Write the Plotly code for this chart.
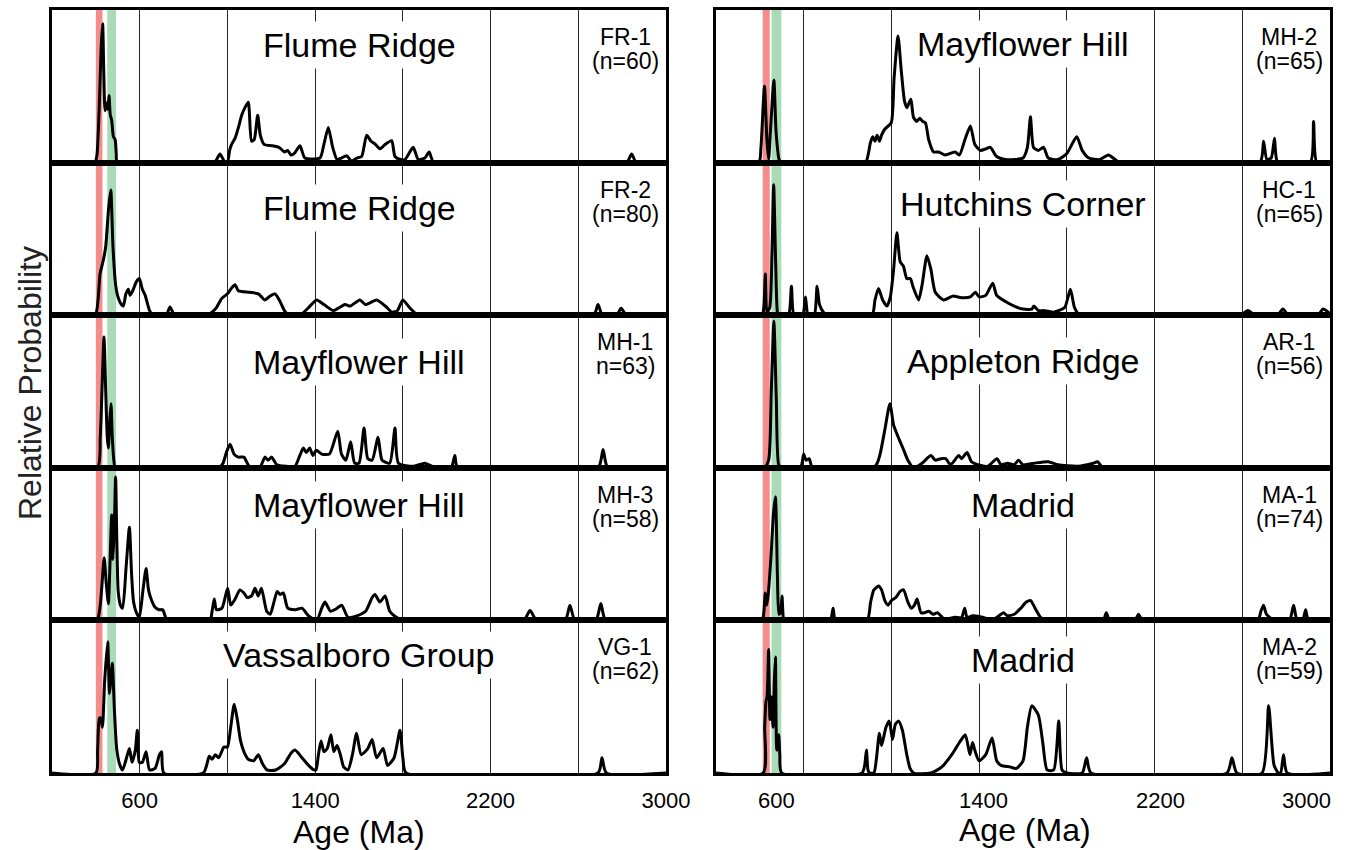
import plotly.graph_objects as go

# ---------------- data (age in Ma, relative probability) ----------------
fr1_age = [200, 395, 405, 415, 424, 431, 436, 442, 450, 455, 460, 466, 472, 480, 488, 493, 498,
           940, 966, 989, 1000, 1010, 1019, 1035, 1050, 1065, 1080, 1095, 1110, 1122, 1138, 1150,
           1167, 1205, 1235, 1260, 1275, 1290, 1305, 1331, 1353, 1422, 1440, 1460, 1480, 1500,
           1520, 1544, 1565, 1590, 1612, 1635, 1655, 1675, 1696, 1720, 1749, 1764, 1790, 1810,
           1847, 1870, 1900, 1920, 1942, 2820, 2843, 2865, 3000]
fr1_prob = [0, 0, 0.05, 0.35, 0.75, 0.91, 0.6, 0.34, 0.39, 0.35, 0.44, 0.31, 0.28, 0.17, 0.15, 0.06, 0,
            0, 0.057, 0, 0.0, 0.08, 0.12, 0.16, 0.23, 0.31, 0.36, 0.395, 0.14, 0.15, 0.31, 0.18,
            0.12, 0.11, 0.1, 0.07, 0.08, 0.05, 0.06, 0.11, 0.03, 0.03, 0.12, 0.23, 0.1, 0.02,
            0.03, 0.045, 0.01, 0.03, 0.04, 0.18, 0.14, 0.12, 0.09, 0.12, 0.144, 0.04, 0.02, 0.02,
            0.1, 0.02, 0.03, 0.07, 0, 0, 0.057, 0, 0]

fr2_age = [200, 396, 410, 419, 434, 445, 458, 468, 478, 490, 498, 512, 525, 537, 548, 556, 568,
           585, 598, 612, 625, 645, 662, 720, 738, 760, 905, 930, 950, 974, 1000, 1020, 1035, 1050,
           1100, 1141, 1170, 1190, 1217, 1240, 1260, 1278, 1335, 1370, 1407, 1440, 1483, 1536,
           1560, 1604, 1630, 1680, 1720, 1750, 1775, 1800, 1830, 1860, 1880, 2670, 2690, 2710,
           2775, 2795, 2820, 3000]
fr2_prob = [0, 0, 0.1, 0.27, 0.36, 0.45, 0.7, 0.82, 0.45, 0.2, 0.135, 0.08, 0.06, 0.14, 0.17, 0.13, 0.16,
            0.22, 0.24, 0.17, 0.13, 0.03, 0, 0, 0.054, 0, 0, 0.02, 0.05, 0.11, 0.14, 0.18, 0.2, 0.16,
            0.15, 0.14, 0.1, 0.12, 0.14, 0.09, 0.03, 0, 0.005, 0.05, 0.1, 0.07, 0.03, 0.07,
            0.06, 0.1, 0.07, 0.1, 0.06, 0.02, 0.03, 0.1, 0.05, 0.01, 0, 0, 0.07, 0,
            0, 0.045, 0, 0]

mh1_age = [200, 407, 420, 430, 437, 445, 452, 457, 463, 469, 475, 482, 490, 960, 980, 995, 1012,
           1030, 1050, 1075, 1100, 1150, 1171, 1185, 1202, 1225, 1270, 1308, 1330, 1346, 1360,
           1375, 1390, 1405, 1430, 1465, 1503, 1520, 1540, 1562, 1580, 1600, 1623, 1640, 1660,
           1687, 1705, 1740, 1764, 1780, 1850, 1900, 1950, 2020, 2037, 2050, 2690, 2713, 2735, 3000]
mh1_prob = [0, 0, 0.2, 0.6, 0.857, 0.5, 0.2, 0.13, 0.3, 0.42, 0.2, 0.05, 0, 0, 0.03, 0.1, 0.155,
            0.09, 0.07, 0.07, 0.01, 0.01, 0.07, 0.05, 0.07, 0.02, 0.01, 0.01, 0.08, 0.13, 0.1,
            0.13, 0.08, 0.115, 0.09, 0.09, 0.24, 0.09, 0.05, 0.17, 0.03, 0.03, 0.26, 0.06, 0.05,
            0.2, 0.05, 0.03, 0.26, 0.03, 0.01, 0.03, 0, 0, 0.08, 0, 0, 0.12, 0, 0]

mh3_age = [200, 404, 420, 438, 447, 457, 465, 472, 478, 484, 490, 496, 502, 512, 522, 538, 553,
           563, 572, 585, 598, 615, 629, 640, 652, 668, 688, 705, 718, 730, 920, 930, 940, 950,
           975, 1001, 1015, 1035, 1057, 1075, 1090, 1110, 1126, 1140, 1155, 1179, 1195, 1212,
           1227, 1240, 1255, 1275, 1310, 1340, 1370, 1407, 1430, 1445, 1470, 1500, 1521, 1550,
           1590, 1630, 1660, 1673, 1695, 1719, 1740, 1770, 1800, 2350, 2380, 2410, 2540, 2562,
           2585, 2680, 2703, 2725, 3000]
mh3_prob = [0, 0, 0.1, 0.41, 0.25, 0.11, 0.4, 0.69, 0.4, 0.6, 0.94, 0.5, 0.19, 0.1, 0.08, 0.35, 0.61,
            0.3, 0.12, 0.05, 0.02, 0.2, 0.34, 0.2, 0.14, 0.09, 0.07, 0.07, 0.02, 0, 0, 0.06, 0.14, 0.07,
            0.08, 0.21, 0.1, 0.14, 0.2, 0.18, 0.15, 0.16, 0.21, 0.16, 0.21, 0.06, 0.04, 0.12,
            0.19, 0.17, 0.18, 0.08, 0.07, 0.08, 0.03, 0, 0.08, 0.12, 0.06, 0.08, 0.1, 0.02,
            0.03, 0.06, 0.15, 0.17, 0.12, 0.16, 0.06, 0.02, 0, 0, 0.065, 0, 0, 0.1,
            0, 0, 0.11, 0, 0]

vg1_age = [200, 400, 408, 416, 422, 430, 440, 454, 462, 468, 475, 485, 495, 510, 522, 540, 553,
           565, 580, 589, 598, 612, 629, 645, 670, 690, 700, 710, 890, 905, 917, 930, 945, 960,
           984, 1000, 1015, 1031, 1045, 1060, 1075, 1095, 1120, 1141, 1160, 1180, 1220, 1260,
           1290, 1308, 1340, 1370, 1395, 1404, 1415, 1427, 1440, 1455, 1472, 1485, 1500, 1515,
           1530, 1550, 1570, 1589, 1610, 1640, 1660, 1680, 1710, 1730, 1760, 1787, 1800, 1815,
           2690, 2708, 2728, 3000]
vg1_prob = [0, 0, 0.15, 0.36, 0.36, 0.3, 0.6, 0.86, 0.52, 0.6, 0.72, 0.4, 0.16, 0.05, 0.02, 0.1, 0.16,
            0.07, 0.15, 0.28, 0.07, 0.07, 0.14, 0.02, 0.03, 0.12, 0.14, 0, 0, 0.05, 0.11, 0.09, 0.12, 0.1,
            0.17, 0.17, 0.3, 0.45, 0.35, 0.21, 0.14, 0.09, 0.08, 0.12, 0.06, 0.02, 0.02, 0.06,
            0.13, 0.15, 0.1, 0.05, 0.02, 0.02, 0.12, 0.21, 0.14, 0.16, 0.25, 0.14, 0.18, 0.12,
            0.04, 0.02, 0.12, 0.26, 0.12, 0.16, 0.22, 0.1, 0.16, 0.05, 0.1, 0.28, 0.1, 0,
            0, 0.1, 0, 0]

mh2_age = [200, 395, 405, 421, 432, 440, 448, 464, 474, 488, 501, 881, 895, 904, 915, 925, 935,
           945, 955, 970, 999, 1012, 1030, 1045, 1060, 1071, 1080, 1089, 1100, 1115, 1130, 1142,
           1155, 1170, 1192, 1215, 1246, 1290, 1310, 1335, 1360, 1380, 1405, 1430, 1451, 1480,
           1520, 1560, 1600, 1620, 1634, 1648, 1670, 1694, 1715, 1760, 1800, 1845, 1870, 1900,
           1950, 1990, 2030, 2080, 2680, 2697, 2712, 2732, 2747, 2762, 2910, 2925, 2940, 3000]
mh2_prob = [0, 0, 0.1, 0.5, 0.15, 0.02, 0.2, 0.54, 0.2, 0.02, 0, 0, 0.06, 0.13, 0.17, 0.14, 0.18,
            0.14, 0.18, 0.22, 0.26, 0.55, 0.83, 0.6, 0.4, 0.36, 0.39, 0.415, 0.3, 0.27, 0.29, 0.27,
            0.26, 0.15, 0.07, 0.07, 0.05, 0.07, 0.05, 0.15, 0.24, 0.12, 0.08, 0.09, 0.1, 0.04,
            0.02, 0.02, 0.03, 0.1, 0.3, 0.1, 0.08, 0.1, 0.03, 0.02, 0.06, 0.17, 0.08, 0.03,
            0.02, 0.05, 0.01, 0, 0, 0.14, 0.02, 0.03, 0.16, 0, 0, 0.27, 0, 0]

hc1_age = [200, 410, 418, 425, 432, 445, 455, 463, 472, 480, 486, 530, 544, 556, 595, 608, 620,
           648, 661, 672, 690, 710, 911, 925, 941, 960, 980, 995, 1010, 1025, 1040, 1055, 1070,
           1086, 1100, 1124, 1140, 1162, 1180, 1200, 1238, 1280, 1320, 1360, 1383, 1400, 1430,
           1462, 1480, 1520, 1560, 1600, 1640, 1650, 1670, 1700, 1740, 1790, 1816, 1835, 1860,
           2590, 2626, 2660, 2760, 2785, 2810, 2945, 2968, 3000]
hc1_prob = [0, 0, 0.05, 0.27, 0.02, 0.05, 0.4, 0.855, 0.35, 0.02, 0, 0, 0.19, 0, 0, 0.12, 0,
            0, 0.19, 0.07, 0.02, 0, 0, 0.1, 0.175, 0.1, 0.06, 0.12, 0.3, 0.54, 0.35, 0.32, 0.24,
            0.24, 0.18, 0.1, 0.2, 0.39, 0.3, 0.15, 0.1, 0.125, 0.115, 0.12, 0.15, 0.12, 0.13,
            0.21, 0.13, 0.09, 0.06, 0.04, 0.04, 0.06, 0.03, 0.03, 0.02, 0.05, 0.17, 0.05, 0,
            0, 0.03, 0, 0, 0.04, 0, 0, 0.04, 0.01]

ar1_age = [200, 420, 440, 452, 464, 475, 486, 500, 585, 600, 610, 625, 640, 918, 935, 950, 970,
           993, 1010, 1023, 1040, 1055, 1075, 1101, 1140, 1180, 1200, 1225, 1247, 1270, 1307,
           1320, 1345, 1365, 1395, 1440, 1481, 1500, 1530, 1560, 1580, 1600, 1650, 1715, 1760,
           1850, 1920, 1940, 1965, 3000]
ar1_prob = [0, 0, 0.05, 0.5, 0.96, 0.45, 0.02, 0, 0, 0.09, 0.05, 0.06, 0, 0, 0.03, 0.1, 0.25,
            0.42, 0.28, 0.23, 0.17, 0.12, 0.05, 0, 0.03, 0.08, 0.05, 0.06, 0.06, 0.02, 0.08,
            0.06, 0.1, 0.04, 0.02, 0.01, 0.06, 0.02, 0.03, 0.02, 0.05, 0.02, 0.03, 0.04, 0.02,
            0.01, 0.03, 0.04, 0, 0]

ma1_age = [200, 410, 418, 425, 432, 440, 452, 462, 471, 480, 487, 494, 501, 508, 515, 720, 734,
           745, 889, 905, 920, 941, 955, 970, 985, 1000, 1020, 1040, 1055, 1075, 1090, 1105, 1117,
           1135, 1150, 1170, 1190, 1210, 1240, 1290, 1320, 1334, 1345, 1370, 1420, 1460, 1490,
           1511, 1530, 1560, 1590, 1615, 1635, 1655, 1680, 1700, 1965, 1980, 1995, 2110, 2127,
           2145, 2670, 2685, 2697, 2710, 2725, 2745, 2815, 2834, 2850, 2875, 2889, 2902, 3000]
ma1_prob = [0, 0, 0.05, 0.18, 0.1, 0.2, 0.45, 0.7, 0.81, 0.3, 0.04, 0.05, 0.16, 0.01, 0, 0, 0.08,
            0, 0, 0.12, 0.2, 0.225, 0.2, 0.13, 0.1, 0.13, 0.15, 0.19, 0.2, 0.12, 0.08, 0.1, 0.14,
            0.05, 0.05, 0.06, 0.04, 0.05, 0.01, 0.02, 0.02, 0.08, 0.02, 0.03, 0.02, 0.0, 0.03,
            0.05, 0.03, 0.04, 0.08, 0.12, 0.13, 0.08, 0.02, 0, 0, 0.05, 0, 0, 0.04,
            0, 0, 0.06, 0.1, 0.04, 0.02, 0, 0, 0.1, 0, 0, 0.07, 0, 0]

ma2_age = [200, 415, 422, 428, 433, 440, 446, 452, 460, 466, 471, 477, 486, 491, 500, 866, 878,
           886, 893, 900, 920, 932, 945, 955, 975, 990, 1005, 1018, 1033, 1050, 1070, 1085, 1101,
           1180, 1230, 1280, 1310, 1337, 1358, 1370, 1380, 1400, 1430, 1459, 1480, 1500, 1540,
           1570, 1600, 1620, 1640, 1670, 1690, 1710, 1740, 1763, 1778, 1800, 1870, 1890, 1910,
           2530, 2553, 2575, 2690, 2720, 2745, 2765, 2775, 2788, 2805, 3000]
ma2_prob = [0, 0, 0.3, 0.47, 0.5, 0.81, 0.35, 0.5, 0.3, 0.6, 0.76, 0.15, 0.25, 0.12, 0, 0, 0.05,
            0.15, 0.02, 0, 0, 0.1, 0.26, 0.18, 0.3, 0.34, 0.22, 0.32, 0.34, 0.28, 0.12, 0.03, 0,
            0, 0.04, 0.13, 0.2, 0.25, 0.12, 0.2, 0.15, 0.08, 0.12, 0.23, 0.08, 0.05, 0.04,
            0.03, 0.08, 0.3, 0.44, 0.38, 0.2, 0.02, 0.02, 0.34, 0.02, 0, 0, 0.1, 0,
            0, 0.1, 0, 0, 0.44, 0.05, 0, 0, 0.12, 0, 0]

titles = ["Flume Ridge", "Flume Ridge", "Mayflower Hill", "Mayflower Hill", "Vassalboro Group",
          "Mayflower Hill", "Hutchins Corner", "Appleton Ridge", "Madrid", "Madrid"]
sample_ids = ["FR-1", "FR-2", "MH-1", "MH-3", "VG-1", "MH-2", "HC-1", "AR-1", "MA-1", "MA-2"]
sample_ns = ["(n=60)", "(n=80)", "n=63)", "(n=58)", "(n=62)",
             "(n=65)", "(n=65)", "(n=56)", "(n=74)", "(n=59)"]
ages = [fr1_age, fr2_age, mh1_age, mh3_age, vg1_age, mh2_age, hc1_age, ar1_age, ma1_age, ma2_age]
probs = [fr1_prob, fr2_prob, mh1_prob, mh3_prob, vg1_prob, mh2_prob, hc1_prob, ar1_prob, ma1_prob, ma2_prob]

tick_vals = [600, 1000, 1400, 1800, 2200, 2600, 3000]
tick_text = ["600", "", "1400", "", "2200", "", "3000"]
right_tick_labels = ["600", "1400", "2200", "3000"]
x_range = [200, 3000]
red_band = [[400, 430], [413, 445]]      # per column
green_band = [[452, 492], [453, 498]]

# ---------------- layout geometry ----------------
W, H = 1367, 850
col_px = [(52, 666), (716, 1330)]
top_px, bot_px = 10, 773
ph = (bot_px - top_px) / 5
title_off = [35, 45, 47, 37, 35, 34, 41, 46, 37, 40]
FONT = "Liberation Sans, Arial, sans-serif"

fig = go.Figure()
layout = dict(width=W, height=H, margin=dict(l=0, r=0, t=0, b=0, pad=0, autoexpand=False),
              paper_bgcolor="white", plot_bgcolor="white", showlegend=False)
shapes, annotations = [], []

for k in range(10):
    col, row = divmod(k, 5)
    n = k + 1
    xa, ya = f"xaxis{n}" if n > 1 else "xaxis", f"yaxis{n}" if n > 1 else "yaxis"
    xr, yr = f"x{n}" if n > 1 else "x", f"y{n}" if n > 1 else "y"
    y_top = top_px + row * ph
    y_bot = y_top + ph
    xd = [col_px[col][0] / W, col_px[col][1] / W]
    yd = [1 - y_bot / H, 1 - y_top / H]
    bottom = row == 4
    layout[xa] = dict(domain=xd, range=x_range, anchor=yr, tickmode="array",
                      tickvals=tick_vals, ticktext=tick_text, showticklabels=(bottom and col == 0),
                      ticks="", ticklabelstandoff=6, showgrid=True,
                      gridcolor="rgba(0,0,0,0.85)", gridwidth=1,
                      zeroline=False, showline=True, mirror=True, linecolor="black", linewidth=3,
                      tickfont=dict(family=FONT, size=22, color="black"))
    layout[ya] = dict(domain=yd, range=[0, 1.0], anchor=xr, showticklabels=False, ticks="",
                      showgrid=False, zeroline=False, showline=True, mirror=True,
                      linecolor="black", linewidth=3)
    fig.add_trace(go.Scatter(x=ages[k], y=probs[k], mode="lines", xaxis=xr, yaxis=yr,
                             line=dict(color="black", width=3, shape="spline", smoothing=0.6),
                             hoverinfo="skip"))
    shapes.append(dict(type="rect", xref=xr, yref=f"{yr} domain", x0=red_band[col][0],
                       x1=red_band[col][1], y0=0, y1=1, fillcolor="#f48c8c", line_width=0,
                       layer="below"))
    shapes.append(dict(type="rect", xref=xr, yref=f"{yr} domain", x0=green_band[col][0],
                       x1=green_band[col][1], y0=0, y1=1, fillcolor="#a9dcb6", line_width=0,
                       layer="below"))
    annotations.append(dict(text=titles[k], xref=f"{xr} domain", yref=f"{yr} domain",
                            x=0.5, y=1 - title_off[k] / ph, xanchor="center", yanchor="middle",
                            showarrow=False, bgcolor="white", borderpad=4,
                            font=dict(family=FONT, size=34, color="black")))
    annotations.append(dict(text=sample_ids[k], xref=f"{xr} domain", yref=f"{yr} domain",
                            x=0.934, y=1 - 27 / ph, xanchor="center", yanchor="middle",
                            showarrow=False, font=dict(family=FONT, size=23, color="black")))
    annotations.append(dict(text=sample_ns[k], xref=f"{xr} domain", yref=f"{yr} domain",
                            x=0.934, y=1 - 51 / ph, xanchor="center", yanchor="middle",
                            showarrow=False, font=dict(family=FONT, size=23, color="black")))

# right-column tick labels (placed as in the reference)
for lab, px in zip(right_tick_labels, [776, 983, 1160, 1306]):
    annotations.append(dict(text=lab, xref="paper", yref="paper", x=px / W, y=1 - 800 / H,
                            xanchor="center", yanchor="middle", showarrow=False,
                            font=dict(family=FONT, size=22, color="black")))

for px, py in [(359, 832), (1025, 830)]:
    annotations.append(dict(text="Age (Ma)", xref="paper", yref="paper", x=px / W, y=1 - py / H,
                            xanchor="center", yanchor="middle", showarrow=False,
                            font=dict(family=FONT, size=32, color="black")))

annotations.append(dict(text="Relative Probability", xref="paper", yref="paper",
                        x=30 / W, y=1 - 383 / H, textangle=-90, showarrow=False,
                        xanchor="center", yanchor="middle",
                        font=dict(family=FONT, size=32, color="#222")))

layout["shapes"] = shapes
layout["annotations"] = annotations
fig.update_layout(**layout)
fig.write_html("out.html", config={"displayModeBar": False},
               post_script="document.body.style.margin='0px';document.body.style.overflow='hidden';")
